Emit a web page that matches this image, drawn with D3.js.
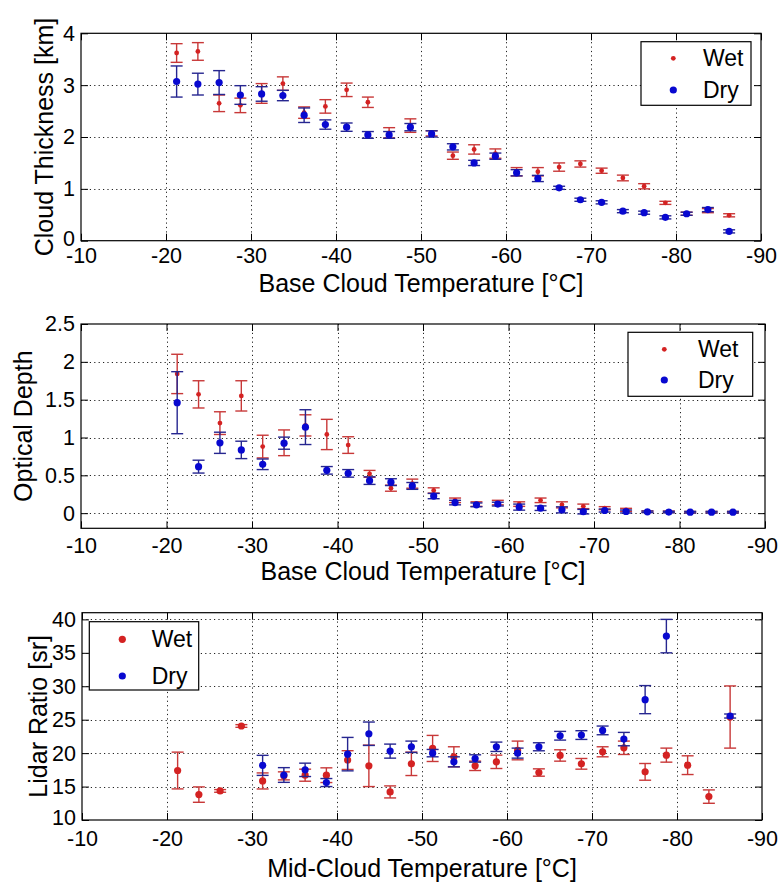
<!DOCTYPE html>
<html><head><meta charset="utf-8">
<script src="https://cdn.jsdelivr.net/npm/d3@7"></script>
<style>
body{margin:0;background:#fff}
svg{display:block}
text{font-family:"Liberation Sans",Arial,Helvetica,sans-serif;fill:#000}
</style>
</head><body>
<svg id="c" width="779" height="883"></svg>
<script>
// ---------- data ----------
const temps = [-21.25,-23.75,-26.25,-28.75,-31.25,-33.75,-36.25,-38.75,-41.25,-43.75,-46.25,-48.75,-51.25,-53.75,-56.25,-58.75,-61.25,-63.75,-66.25,-68.75,-71.25,-73.75,-76.25,-78.75,-81.25,-83.75,-86.25];
const xTickVals = [-10,-20,-30,-40,-50,-60,-70,-80,-90];

const thickWet    = [3.62,3.65,2.65,2.61,2.84,3.03,2.47,2.59,2.91,2.67,2.08,2.22,2.07,1.64,1.76,1.68,1.33,1.33,1.42,1.48,1.35,1.21,1.05,0.73,0.52,0.58,0.49];
const thickWetErr = [0.18,0.17,0.16,0.14,0.19,0.13,0.11,0.13,0.13,0.10,0.10,0.13,0.05,0.07,0.09,0.09,0.08,0.08,0.08,0.06,0.05,0.055,0.05,0.03,0.03,0.04,0.03];
const thickDry    = [3.07,3.02,3.05,2.81,2.83,2.80,2.42,2.24,2.19,2.04,2.04,2.19,2.06,1.81,1.50,1.63,1.31,1.20,1.02,0.79,0.74,0.57,0.54,0.45,0.52,0.60,0.18];
const thickDryErr = [0.30,0.21,0.23,0.18,0.14,0.10,0.14,0.09,0.08,0.065,0.065,0.07,0.06,0.06,0.05,0.06,0.06,0.06,0.03,0.03,0.03,0.03,0.03,0.03,0.03,0.04,0.03];
const thickTicks  = [0,1,2,3,4];

const odWet    = [1.84,1.57,1.19,1.55,0.88,0.93,1.16,1.04,0.90,0.52,0.33,0.39,0.30,0.17,0.12,0.14,0.12,0.17,0.11,0.09,0.066,0.044,0.02,0.018,0.013,0.013,0.013];
const odWetErr = [0.26,0.18,0.15,0.20,0.15,0.17,0.14,0.20,0.11,0.045,0.04,0.06,0.035,0.03,0.03,0.03,0.03,0.03,0.04,0.03,0.02,0.02,0.01,0.01,0.01,0.01,0.01];
const odDry    = [1.46,0.615,0.93,0.836,0.646,0.925,1.137,0.566,0.526,0.43,0.41,0.36,0.226,0.14,0.11,0.12,0.08,0.066,0.044,0.02,0.035,0.022,0.018,0.015,0.013,0.013,0.013];
const odDryErr = [0.41,0.085,0.14,0.115,0.07,0.08,0.23,0.05,0.05,0.05,0.045,0.045,0.035,0.03,0.025,0.025,0.04,0.03,0.04,0.03,0.02,0.02,0.01,0.01,0.01,0.01,0.01];
const odTicks  = [0,0.5,1,1.5,2,2.5];

const lrWet    = [17.4,13.8,14.35,24.06,15.84,16.6,16.7,16.7,18.96,18.1,14.2,18.4,20.7,19.45,18.1,18.7,20.4,17.1,19.65,18.4,20.2,20.8,17.2,19.7,18.2,13.5,25.4];
const lrWetErr = [2.75,1.15,0.2,0.2,1.2,0.6,0.9,1.1,1.4,3.1,0.9,1.75,1.95,1.5,0.7,1.0,1.4,0.55,0.85,0.8,0.75,1.0,1.25,1.05,1.4,1.0,4.65];
const lrDry    = [null,null,null,null,18.17,16.73,17.5,15.6,19.85,22.9,20.3,20.95,20.0,18.7,19.2,20.95,20.0,20.95,22.6,22.7,23.4,22.1,28.0,37.5,null,null,25.55];
const lrDryErr = [null,null,null,null,1.5,1.1,1.0,0.6,2.5,1.75,1.05,0.85,0.55,0.75,0.55,0.7,0.75,0.6,0.65,0.65,0.65,1.0,2.1,2.5,null,null,0.3];
const lrTicks  = [10,15,20,25,30,35,40];

const seriesNames = ["Wet","Dry"];

// ---------- style ----------
const RED = "#d42222", RED_BAR = "#c83838";
const BLUE = "#0808d0", BLUE_BAR = "#262690";

const svg = d3.select("#c");

function panel(o){
  const x = d3.scaleLinear().domain([-10,-90]).range([o.l,o.r]);
  const y = d3.scaleLinear().domain(o.yd).range([o.b,o.t]);
  const g = svg.append("g");

  // grid
  const grid = g.append("g").attr("stroke","#222").attr("stroke-width",1).attr("stroke-dasharray","1.2,3.2");
  grid.selectAll("line.gx").data(xTickVals.slice(1,-1)).join("line")
    .attr("x1",d=>Math.round(x(d))+0.5).attr("x2",d=>Math.round(x(d))+0.5)
    .attr("y1",o.t).attr("y2",o.b);
  grid.selectAll("line.gy").data(o.yTicks.filter(v=>v>o.yd[0] && v<o.yd[1])).join("line")
    .attr("y1",d=>Math.round(y(d))+0.5).attr("y2",d=>Math.round(y(d))+0.5)
    .attr("x1",o.l).attr("x2",o.r);

  const fmt = d=>String(d);
  // axes
  const ax = g.append("g").attr("transform",`translate(0,${o.b})`)
    .call(d3.axisBottom(x).tickValues(xTickVals).tickSize(-7).tickPadding(o.xPad).tickFormat(fmt));
  const ay = g.append("g").attr("transform",`translate(${o.l},0)`)
    .call(d3.axisLeft(y).tickValues(o.yTicks).tickSize(-7).tickPadding(6).tickFormat(fmt));
  const at = g.append("g").attr("transform",`translate(0,${o.t})`)
    .call(d3.axisTop(x).tickValues(xTickVals).tickSize(-7).tickFormat(""));
  const ar = g.append("g").attr("transform",`translate(${o.r},0)`)
    .call(d3.axisRight(y).tickValues(o.yTicks).tickSize(-7).tickFormat(""));
  [ax,ay,at,ar].forEach(a=>{
    a.select(".domain").remove();
    a.selectAll("line").attr("stroke","#000");
    a.selectAll("text").attr("font-size",21.5).attr("font-family",null);
  });
  // lowest y label sits just above the x labels
  ay.selectAll("text").filter(d=>d===o.yd[0]).attr("y",-2.5);
  // keep the last x tick label inside the page
  ax.selectAll("text").each(function(){
    const bb = this.getBBox();
    const tr = this.parentNode.getAttribute("transform");
    const tx = +tr.match(/translate\(([-\d.]+)/)[1];
    const over = tx + bb.x + bb.width - 778;
    if(over > 0) d3.select(this).attr("x", -over);
  });
  g.append("rect").attr("x",o.l).attr("y",o.t).attr("width",o.r-o.l).attr("height",o.b-o.t)
    .attr("fill","none").attr("stroke","#000").attr("stroke-width",1.2);

  // labels
  g.append("text").attr("x",(o.l+o.r)/2).attr("y",o.xLabY).attr("text-anchor","middle")
    .attr("font-size",25).text(o.xLabel);
  g.append("text").attr("transform",`translate(${o.yLabX},${(o.t+o.b)/2}) rotate(-90)`)
    .attr("text-anchor","middle").attr("font-size",25).text(o.yLabel);

  // data
  const clip = g.append("g");
  function draw(vals, errs, col, barCol, r){
    const pts = temps.map((t,i)=>({t, v:vals[i], e:errs[i]})).filter(p=>p.v!=null);
    const s = clip.append("g");
    const eb = s.append("g").attr("stroke",barCol).attr("stroke-width",1.4);
    eb.selectAll("line.v").data(pts).join("line")
      .attr("x1",p=>x(p.t)).attr("x2",p=>x(p.t))
      .attr("y1",p=>y(p.v-p.e)).attr("y2",p=>y(p.v+p.e));
    eb.selectAll("line.c1").data(pts).join("line")
      .attr("x1",p=>x(p.t)-6).attr("x2",p=>x(p.t)+6)
      .attr("y1",p=>y(p.v-p.e)).attr("y2",p=>y(p.v-p.e));
    eb.selectAll("line.c2").data(pts).join("line")
      .attr("x1",p=>x(p.t)-6).attr("x2",p=>x(p.t)+6)
      .attr("y1",p=>y(p.v+p.e)).attr("y2",p=>y(p.v+p.e));
    s.selectAll("circle").data(pts).join("circle")
      .attr("cx",p=>x(p.t)).attr("cy",p=>y(p.v)).attr("r",r).attr("fill",col);
  }
  draw(o.wet,o.wetErr,RED,RED_BAR,o.rWet);
  draw(o.dry,o.dryErr,BLUE,BLUE_BAR,o.rDry);

  // legend
  const L = o.leg;
  const lg = g.append("g");
  lg.append("rect").attr("x",L.x).attr("y",L.y).attr("width",L.w).attr("height",L.h)
    .attr("fill","#fff").attr("stroke","#000").attr("stroke-width",1.2);
  const cols=[RED,BLUE], rs=[o.rWet,o.rDry];
  seriesNames.forEach((n,i)=>{
    lg.append("circle").attr("cx",L.mx).attr("cy",L.rows[i]).attr("r",rs[i]).attr("fill",cols[i]);
    lg.append("text").attr("x",L.tx).attr("y",L.rows[i]+7.8).attr("font-size",23).text(n);
  });
}

panel({l:81,r:761,t:33.3,b:240.7,yd:[0,4],yTicks:thickTicks,xPad:7,xLabY:292,
  xLabel:"Base Cloud Temperature [°C]",yLabel:"Cloud Thickness [km]",yLabX:53,
  wet:thickWet,wetErr:thickWetErr,dry:thickDry,dryErr:thickDryErr,rWet:2.4,rDry:3.6,
  leg:{x:641,y:41.7,w:110,h:63.6,mx:673.3,tx:703,rows:[58.3,90]}});

panel({l:81,r:765,t:324,b:528.3,yd:[-0.2,2.5],yTicks:odTicks,xPad:9.4,xLabY:580,
  xLabel:"Base Cloud Temperature [°C]",yLabel:"Optical Depth",yLabX:31.5,
  wet:odWet,wetErr:odWetErr,dry:odDry,dryErr:odDryErr,rWet:2.4,rDry:3.6,
  leg:{x:628,y:332.3,w:124.7,h:64,mx:664.3,tx:698,rows:[349.3,380]}});

panel({l:82,r:762,t:612.7,b:820,yd:[10,41],yTicks:lrTicks,xPad:11,xLabY:877,
  xLabel:"Mid-Cloud Temperature [°C]",yLabel:"Lidar Ratio [sr]",yLabX:46.7,
  wet:lrWet,wetErr:lrWetErr,dry:lrDry,dryErr:lrDryErr,rWet:3.6,rDry:3.6,
  leg:{x:89.3,y:621.7,w:109.4,h:68.3,mx:122.3,tx:151.7,rows:[639.3,676]}});
</script>
</body></html>
